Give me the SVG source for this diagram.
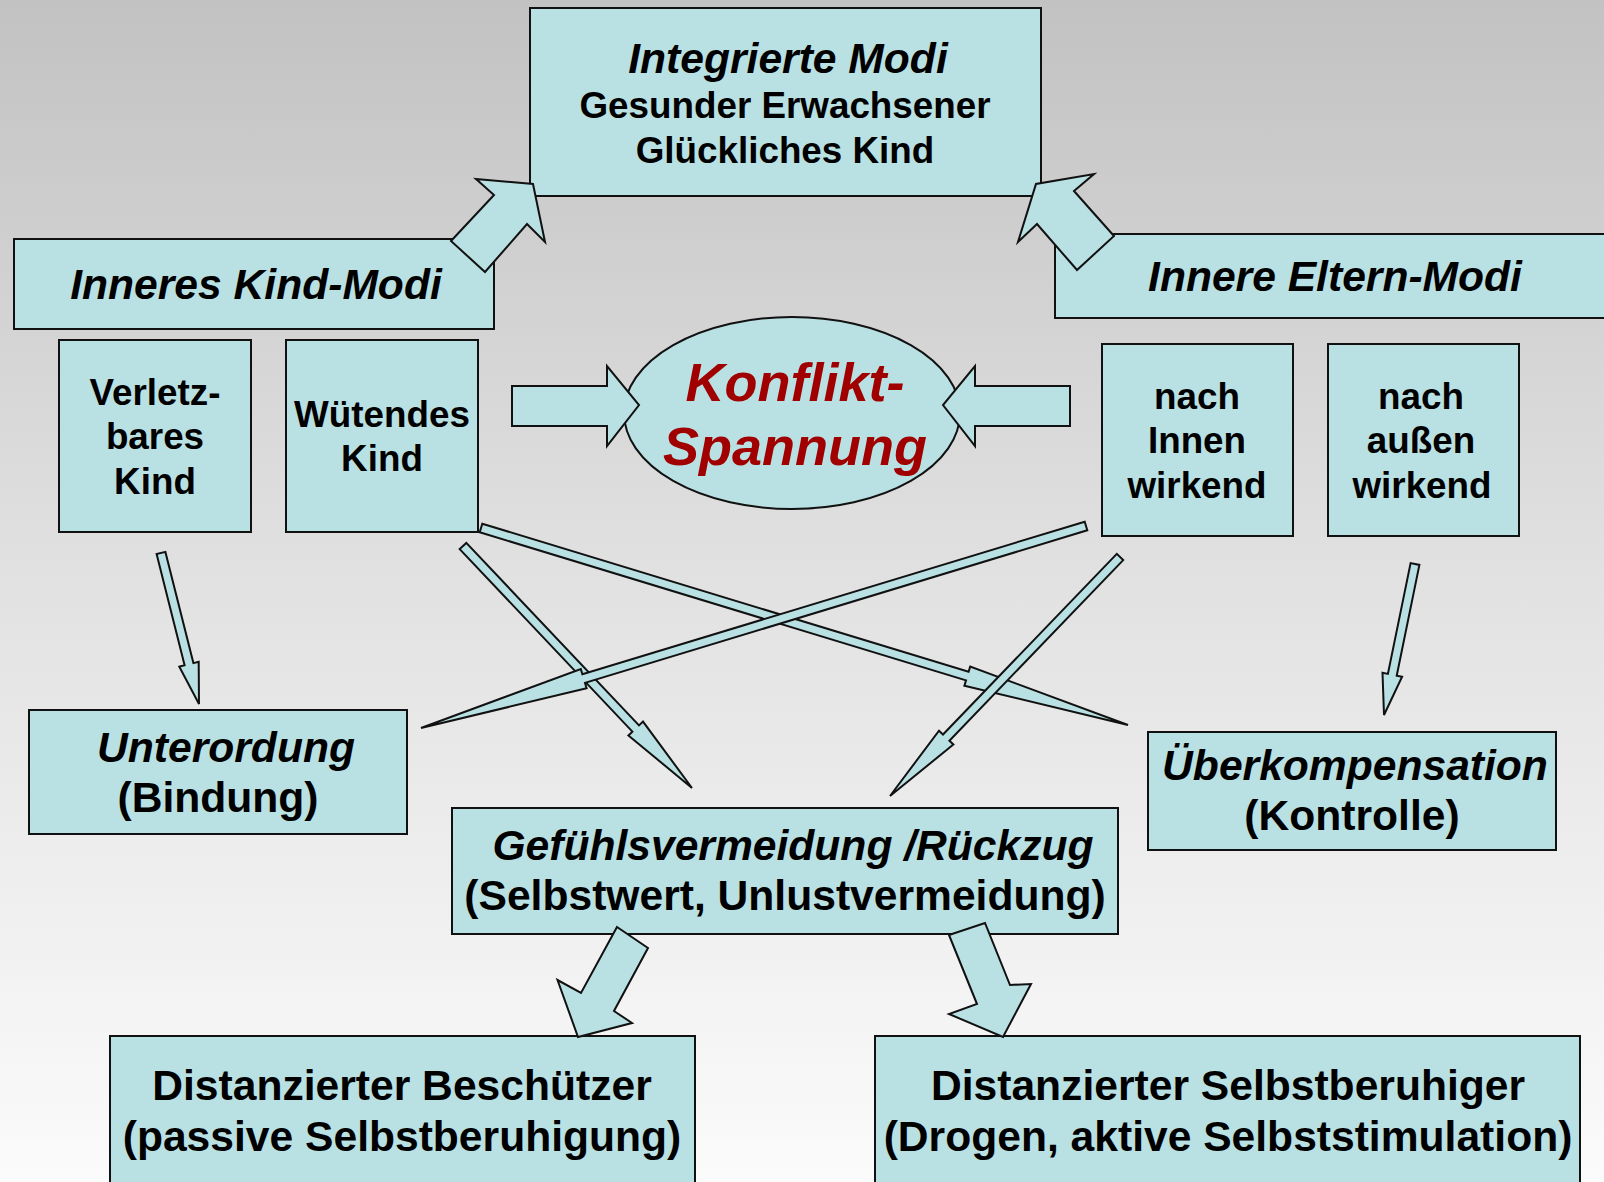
<svg xmlns="http://www.w3.org/2000/svg" width="1604" height="1182" viewBox="0 0 1604 1182">
<defs>
<linearGradient id="bg" x1="0" y1="0" x2="0" y2="1">
<stop offset="0" stop-color="#C2C2C2"/>
<stop offset="0.5" stop-color="#E2E2E2"/>
<stop offset="1" stop-color="#FBFBFB"/>
</linearGradient>
<style>
.box{fill:#B9E0E3;stroke:#111;stroke-width:2}
.arr{fill:#B9E0E3;stroke:#111;stroke-width:2;stroke-linejoin:miter}
text{font-family:"Liberation Sans",Arial,sans-serif;font-weight:bold;fill:#000;text-anchor:middle}
.it{font-style:italic}
.t42{font-size:42.6px}
.t36{font-size:36.8px}
.red{fill:#A00000;font-size:54px;font-style:italic}
</style>
</defs>
<rect x="0" y="0" width="1604" height="1182" fill="url(#bg)"/>

<g id="node-integrierte">
<rect class="box" x="530" y="8" width="511" height="188"/>
<text class="t42 it" x="788" y="73">Integrierte Modi</text>
<text class="t36" x="785" y="118">Gesunder Erwachsener</text>
<text class="t36" x="785" y="163">Glückliches Kind</text>
</g>

<g id="node-inneres-kind">
<rect class="box" x="14" y="239" width="480" height="90"/>
<text class="t42 it" x="256" y="299">Inneres Kind-Modi</text>
</g>

<g id="node-innere-eltern">
<rect class="box" x="1055" y="234" width="560" height="84"/>
<text class="t42 it" x="1335" y="291">Innere Eltern-Modi</text>
</g>

<g id="node-verletzbar">
<rect class="box" x="59" y="340" width="192" height="192"/>
<text class="t36" x="155" y="405">Verletz-</text>
<text class="t36" x="155" y="449">bares</text>
<text class="t36" x="155" y="494">Kind</text>
</g>

<g id="node-wuetend">
<rect class="box" x="286" y="340" width="192" height="192"/>
<text class="t36" x="382" y="427">Wütendes</text>
<text class="t36" x="382" y="471">Kind</text>
</g>

<g id="node-konflikt">
<ellipse class="box" cx="792" cy="413" rx="168" ry="96"/>
<text class="red" x="795" y="401">Konflikt-</text>
<text class="red" x="795" y="465">Spannung</text>
</g>

<g id="node-innen">
<rect class="box" x="1102" y="344" width="191" height="192"/>
<text class="t36" x="1197" y="409">nach</text>
<text class="t36" x="1197" y="453">Innen</text>
<text class="t36" x="1197" y="498">wirkend</text>
</g>

<g id="node-aussen">
<rect class="box" x="1328" y="344" width="191" height="192"/>
<text class="t36" x="1421" y="409">nach</text>
<text class="t36" x="1421" y="453">außen</text>
<text class="t36" x="1422" y="498">wirkend</text>
</g>

<g id="node-unterordung">
<rect class="box" x="29" y="710" width="378" height="124"/>
<text class="t42 it" x="226" y="762">Unterordung</text>
<text class="t42" x="218" y="812">(Bindung)</text>
</g>

<g id="node-gefuehl">
<rect class="box" x="452" y="808" width="666" height="126"/>
<text class="t42 it" x="793" y="860">Gefühlsvermeidung /Rückzug</text>
<text class="t42" x="785" y="910">(Selbstwert, Unlustvermeidung)</text>
</g>

<g id="node-ueberkomp">
<rect class="box" x="1148" y="732" width="408" height="118"/>
<text class="t42 it" x="1355" y="780">Überkompensation</text>
<text class="t42" x="1352" y="830">(Kontrolle)</text>
</g>

<g id="node-beschuetzer">
<rect class="box" x="110" y="1036" width="585" height="160"/>
<text class="t42" x="402" y="1100">Distanzierter Beschützer</text>
<text class="t42" x="402" y="1151">(passive Selbstberuhigung)</text>
</g>

<g id="node-selbstberuhiger">
<rect class="box" x="875" y="1036" width="705" height="160"/>
<text class="t42" x="1228" y="1100">Distanzierter Selbstberuhiger</text>
<text class="t42" x="1228" y="1151">(Drogen, aktive Selbststimulation)</text>
</g>

<g id="connectors">
<polygon class="arr" points="451,241 494,195 476,179 533,184 545,242 527,224 485,272"/>
<polygon class="arr" points="1074,191 1094,174 1036,184 1018,242 1037,224 1077,270 1114,236"/>
<polygon class="arr" points="512,386 607,386 607,366 639,405 607,446 607,426 512,426"/>
<polygon class="arr" points="1070,386 975,386 975,366 943,405 975,446 975,426 1070,426"/>
<polygon class="arr" points="156.6,554.1 184.6,665.3 179.3,666.6 199,704 198.7,661.8 193.4,663.1 165.4,551.9"/>
<polygon class="arr" points="459.7,549.1 632.4,731.6 628.4,735.4 692,788 643,721.6 639,725.4 466.3,542.9"/>
<polygon class="arr" points="479.7,532.3 966,680.4 964.4,685.7 1128,725 970.2,666.5 968.6,671.8 482.3,523.7"/>
<polygon class="arr" points="1084.7,521.7 582.4,674.3 580.8,669 421,728 586.6,688.2 585,682.9 1087.3,530.3"/>
<polygon class="arr" points="1116.8,553.9 943,734.5 939,730.7 890,796 953.4,744.5 949.4,740.7 1123.2,560.1"/>
<polygon class="arr" points="1410.6,563.1 1387.9,673.9 1382.5,672.8 1384,715 1402.1,676.8 1396.7,675.7 1419.4,564.9"/>
<polygon class="arr" points="617,927 648,948 614,1011 632,1023 578,1037 557.5,980 581,993"/>
<polygon class="arr" points="949,935 985,923 1010,985 1031,984 1003,1037 949,1014 977,1004"/>
</g>
</svg>
